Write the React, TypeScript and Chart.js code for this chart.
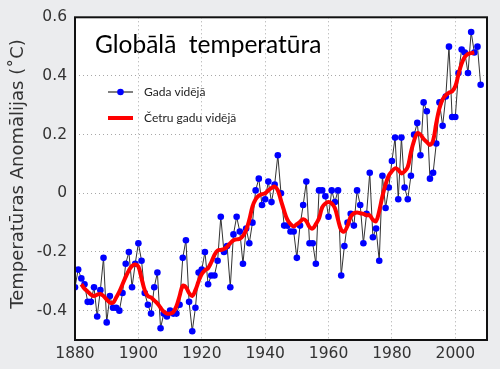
import React, { useEffect, useRef } from "react";
import { Chart, registerables } from "chart.js";

Chart.register(...registerables);

const START_YEAR = 1880;
const annualMean = [
  -0.32, -0.26, -0.29, -0.31, -0.37, -0.37, -0.32, -0.42, -0.33, -0.22,
  -0.44, -0.35, -0.39, -0.39, -0.40, -0.34, -0.24, -0.20, -0.32, -0.24,
  -0.17, -0.23, -0.34, -0.38, -0.41, -0.32, -0.27, -0.46, -0.41, -0.42,
  -0.40, -0.41, -0.41, -0.38, -0.22, -0.16, -0.37, -0.47, -0.39, -0.27,
  -0.26, -0.20, -0.31, -0.28, -0.28, -0.23, -0.08, -0.20, -0.18, -0.32,
  -0.14, -0.08, -0.13, -0.24, -0.12, -0.17, -0.10, 0.01, 0.05, -0.04,
  -0.02, 0.04, -0.03, 0.03, 0.13, 0.0, -0.11, -0.11, -0.13, -0.13,
  -0.22, -0.11, -0.04, 0.04, -0.17, -0.17, -0.24, 0.01, 0.01, -0.01,
  -0.08, 0.01, -0.03, 0.01, -0.28, -0.18, -0.10, -0.07, -0.11, 0.01,
  -0.04, -0.17, -0.07, 0.07, -0.15, -0.12, -0.23, 0.06, -0.05, 0.02,
  0.11, 0.19, -0.02, 0.19, 0.02, -0.02, 0.06, 0.20, 0.24, 0.13,
  0.31, 0.28, 0.05, 0.07, 0.17, 0.31, 0.23, 0.33, 0.50, 0.26,
  0.26, 0.41, 0.49, 0.48, 0.41, 0.55, 0.48, 0.50, 0.37,
];

const SMOOTH_START = 1882;
const fourYearMean = [
  -0.31, -0.325, -0.335, -0.345, -0.35, -0.345, -0.343, -0.35, -0.362, -0.372,
  -0.373, -0.355, -0.335, -0.31, -0.285, -0.263, -0.248, -0.243, -0.25, -0.29,
  -0.33, -0.35, -0.355, -0.365, -0.375, -0.39, -0.403, -0.41, -0.41, -0.405,
  -0.385, -0.35, -0.315, -0.32, -0.34, -0.35, -0.33, -0.30, -0.275, -0.262,
  -0.255, -0.235, -0.21, -0.195, -0.193, -0.19, -0.182, -0.17, -0.16, -0.157,
  -0.155, -0.145, -0.125, -0.09, -0.045, -0.02, -0.008, -0.003, 0.0, 0.01,
  0.018, 0.023, 0.01, -0.025, -0.06, -0.09, -0.105, -0.113, -0.105, -0.097,
  -0.088, -0.095, -0.115, -0.12, -0.105, -0.085, -0.048, -0.035, -0.03, -0.035,
  -0.05, -0.09, -0.125, -0.13, -0.11, -0.08, -0.068, -0.065, -0.068, -0.07,
  -0.075, -0.075, -0.09, -0.095, -0.06, -0.01, 0.03, 0.06, 0.075, 0.085,
  0.08, 0.068, 0.075, 0.09, 0.14, 0.18, 0.205, 0.2, 0.185, 0.175,
  0.165, 0.18, 0.24, 0.29, 0.32, 0.335, 0.343, 0.348, 0.365, 0.405,
  0.442, 0.465, 0.475, 0.478, 0.48,
];

const xTicks = [1880, 1900, 1920, 1940, 1960, 1980, 2000];
const yTicks = [-0.4, -0.2, 0, 0.2, 0.4, 0.6];
const X_MIN = 1880;
const X_MAX = 2010;
const Y_MIN = -0.5;
const Y_MAX = 0.6;

const TITLE = "Globālā  temperatūra";
const LEGEND_ANNUAL = "Gada vidējā";
const LEGEND_SMOOTH = "Četru gadu vidējā";
const Y_TITLE = "Temperatūras Anomālijas (˚C)";

const overlay = {
  id: "overlay",
  beforeDraw(chart: any) {
    const { ctx, chartArea: a, width, height } = chart;
    ctx.save();
    ctx.fillStyle = "#ebecee";
    ctx.fillRect(0, 0, width, height);
    ctx.fillStyle = "#ffffff";
    ctx.fillRect(a.left, a.top, a.right - a.left, a.bottom - a.top);
    ctx.restore();
  },
  afterDraw(chart: any) {
    const { ctx, chartArea: a } = chart;
    ctx.save();
    ctx.strokeStyle = "#111";
    ctx.lineWidth = 2;
    ctx.strokeRect(a.left, a.top, a.right - a.left, a.bottom - a.top);

    ctx.fillStyle = "#000";
    ctx.font = "24.5px Lato";
    ctx.textBaseline = "alphabetic";
    ctx.textAlign = "left";
    ctx.fillText(TITLE, 95, 53);

    // legend
    ctx.strokeStyle = "#808080";
    ctx.lineWidth = 2;
    ctx.beginPath();
    ctx.moveTo(108, 92);
    ctx.lineTo(133, 92);
    ctx.stroke();
    ctx.fillStyle = "#0000ff";
    ctx.beginPath();
    ctx.arc(120.5, 92, 3.3, 0, Math.PI * 2);
    ctx.fill();
    ctx.strokeStyle = "#ff0000";
    ctx.lineWidth = 4;
    ctx.beginPath();
    ctx.moveTo(108, 118);
    ctx.lineTo(133, 118);
    ctx.stroke();
    ctx.fillStyle = "#222";
    ctx.font = "12px Lato";
    ctx.textBaseline = "middle";
    ctx.fillText(LEGEND_ANNUAL, 144, 92);
    ctx.fillText(LEGEND_SMOOTH, 144, 118);

    // y title
    ctx.translate(18, 174);
    ctx.rotate(-Math.PI / 2);
    ctx.textAlign = "center";
    ctx.textBaseline = "middle";
    ctx.font = '18px "DejaVu Sans"';
    ctx.fillStyle = "#333";
    ctx.fillText(Y_TITLE, 0, 0);
    ctx.restore();
  },
};

export default function App() {
  const ref = useRef<HTMLCanvasElement | null>(null);
  useEffect(() => {
    if (!ref.current) return;
    const annualPts = annualMean.map((v, i) => ({ x: START_YEAR + i, y: v }));
    const smoothPts = fourYearMean.map((v, i) => ({ x: SMOOTH_START + i, y: v }));
    const grid: any = {
      color: "#a8a8a8",
      lineWidth: 1,
      drawTicks: false,
      borderDash: [1, 3],
      dash: [1, 3],
    };
    const border: any = { display: false, dash: [1, 3] };
    const tickFont = { family: '"DejaVu Sans"', size: 15.5 };
    const chart = new Chart(ref.current, {
      type: "line",
      data: {
        datasets: [
          {
            label: LEGEND_SMOOTH,
            data: smoothPts,
            borderColor: "#ff0000",
            borderWidth: 4,
            pointRadius: 0,
            tension: 0.4,
            fill: false,
            order: 0,
          },
          {
            label: LEGEND_ANNUAL,
            data: annualPts,
            borderColor: "#333333",
            borderWidth: 1,
            pointRadius: 3.3,
            pointBackgroundColor: "#0000ff",
            pointBorderWidth: 0,
            pointBorderColor: "#0000ff",
            tension: 0,
            fill: false,
            order: 1,
          },
        ],
      },
      options: {
        animation: false,
        responsive: false,
        layout: { padding: { top: 16, right: 13, left: 0, bottom: 0 } },
        plugins: { legend: { display: false }, tooltip: { enabled: false } },
        scales: {
          x: {
            type: "linear",
            min: X_MIN,
            max: X_MAX,
            afterBuildTicks: (s: any) => {
              s.ticks = xTicks.map((v) => ({ value: v }));
            },
            afterFit: (s: any) => {
              s.height = 29;
            },
            grid: { ...grid },
            border,
            ticks: {
              color: "#333",
              font: tickFont,
              padding: 5,
              maxRotation: 0,
              callback: (v: any) => String(v),
            },
          },
          y: {
            type: "linear",
            min: Y_MIN,
            max: Y_MAX,
            afterBuildTicks: (s: any) => {
              s.ticks = yTicks.map((v) => ({ value: v }));
            },
            afterFit: (s: any) => {
              s.width = 75;
            },
            grid: { ...grid },
            border,
            ticks: {
              color: "#333",
              font: tickFont,
              padding: 8,
              callback: (v: any) => (Math.abs(v) < 1e-9 ? "0" : Number(v).toFixed(1)),
            },
          },
        },
      },
      plugins: [overlay],
    });
    return () => chart.destroy();
  }, []);
  return (
    <div style={{ position: "absolute", left: 0, top: 0, width: 500, height: 369 }}>
      <canvas ref={ref} width={500} height={369} style={{ display: "block" }} />
    </div>
  );
}
